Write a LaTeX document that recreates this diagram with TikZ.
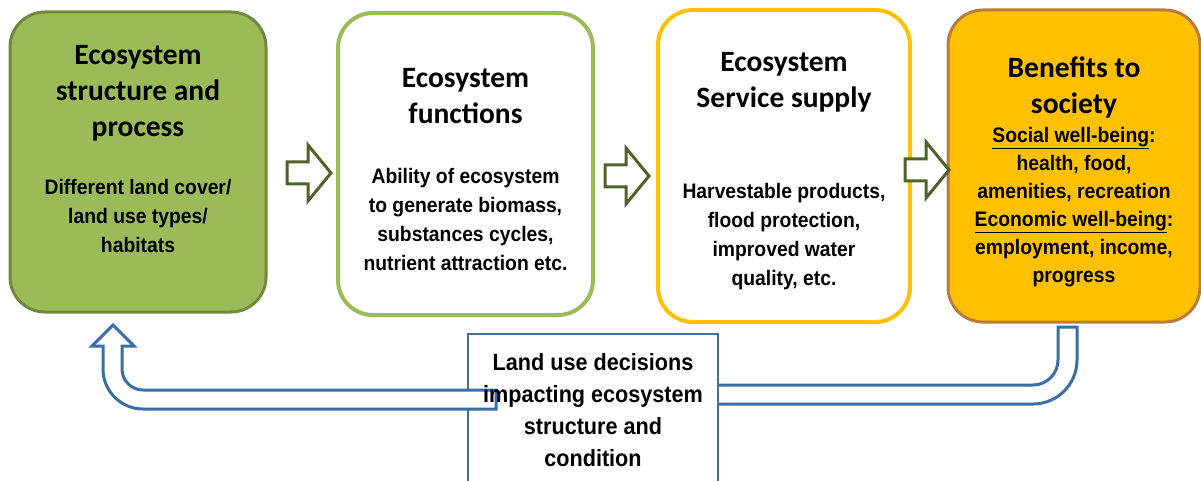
\documentclass[tikz,border=0pt]{standalone}
\usepackage{fontspec}
\newfontfamily\titlefont{Carlito}
\newfontfamily\bodyfont{Liberation Sans}[FakeStretch=0.92]
\definecolor{gfill}{HTML}{9BBB59}
\definecolor{gdark}{HTML}{71893F}
\definecolor{gline}{HTML}{9BBB59}
\definecolor{yline}{HTML}{FFC000}
\definecolor{yfill}{HTML}{FFC000}
\definecolor{ydark}{HTML}{B97A3B}
\definecolor{arrgreen}{HTML}{4F6228}
\definecolor{fblue}{HTML}{3C6EA6}
\definecolor{bblue}{HTML}{41719C}
\tikzset{
  box/.style={rectangle, rounded corners=35pt, inner sep=0pt},
  titletext/.style={font=\titlefont\bfseries\fontsize{29.5}{36}\selectfont, align=center, inner sep=0pt},
  bodytext/.style={font=\bodyfont\bfseries\fontsize{21}{29}\selectfont, align=center, inner sep=0pt},
  dectext/.style={font=\bodyfont\bfseries\fontsize{23.5}{32}\selectfont, align=center, inner sep=0pt},
  barrow/.style={draw=arrgreen, fill=white, line width=3pt, line join=miter},
  fbarrow/.style={draw=fblue, fill=white, line width=3pt, line join=miter},
  blockarr/.pic={\draw[barrow] (0,-11) -- (21,-11) -- (21,-28) -- (44,0) -- (21,28) -- (21,11) -- (0,11) -- cycle;}
}
\begin{document}
\begin{tikzpicture}[x=1pt,y=-1pt]
\useasboundingbox (0,0) rectangle (1201,481);
\clip (0,0) rectangle (1201,481);
% boxes
\node[box, fill=gfill, draw=gdark, line width=3pt, minimum width=256pt, minimum height=300pt] (b1) at (138,162) {};
\node[box, fill=white, draw=gline, line width=4pt, minimum width=255pt, minimum height=302pt] (b2) at (465.5,164) {};
\node[box, fill=white, draw=yline, line width=4pt, minimum width=252pt, minimum height=312pt] (b3) at (784,166) {};
\node[box, fill=yfill, draw=ydark, line width=3pt, minimum width=252pt, minimum height=312pt] (b4) at (1074,166) {};
% texts
\node[titletext] (t1) at (138,93) {Ecosystem\\structure and\\process};
\node[bodytext] (s1) at (138,216) {Different land cover/\\land use types/\\habitats};
\node[titletext] (t2) at (465.5,96) {Ecosystem\\functions};
\node[bodytext] (s2) at (465.5,219) {Ability of ecosystem\\to generate biomass,\\substances cycles,\\nutrient attraction etc.};
\node[titletext] (t3) at (784,82.5) {Ecosystem\\Service supply};
\node[bodytext] (s3) at (784,236.5) {Harvestable products,\\flood protection,\\improved water\\quality, etc.};
\node[titletext] (t4) at (1074,87.5) {Benefits to\\society};
\node[bodytext, font=\bodyfont\bfseries\fontsize{21}{28}\selectfont] (s4) at (1074,207) {\underline{Social well-being}:\\health, food,\\amenities, recreation\\\underline{Economic well-being}:\\employment, income,\\progress};
% block arrows between boxes
\pic (a1) at (287,173) {blockarr};
\pic (a2) at (605,176) {blockarr};
\pic (a3) at (905,170) {blockarr};
% right feedback piece (tail hidden under decision box)
\draw[fbarrow] (700,385) -- (1033,385) arc[start angle=90, end angle=0, radius=25] -- (1058,327) -- (1077,327) -- (1077,360) arc[start angle=0, end angle=90, radius=44] -- (700,404) -- cycle;
% decision box
\node[rectangle, fill=white, draw=bblue, line width=2.5pt, minimum width=250pt, minimum height=156pt, inner sep=0pt] (dec) at (593,412) {};
% left feedback piece with head
\draw[fbarrow] (496,390) -- (143,390) arc[start angle=90, end angle=180, radius=21] -- (122,346) -- (134,346) -- (113,325) -- (92,346) -- (103,346) -- (103,369) arc[start angle=180, end angle=90, radius=40] -- (496,409) -- cycle;
\node[dectext] (dt) at (593,410) {Land use decisions\\impacting ecosystem\\structure and\\condition};
\end{tikzpicture}
\end{document}
